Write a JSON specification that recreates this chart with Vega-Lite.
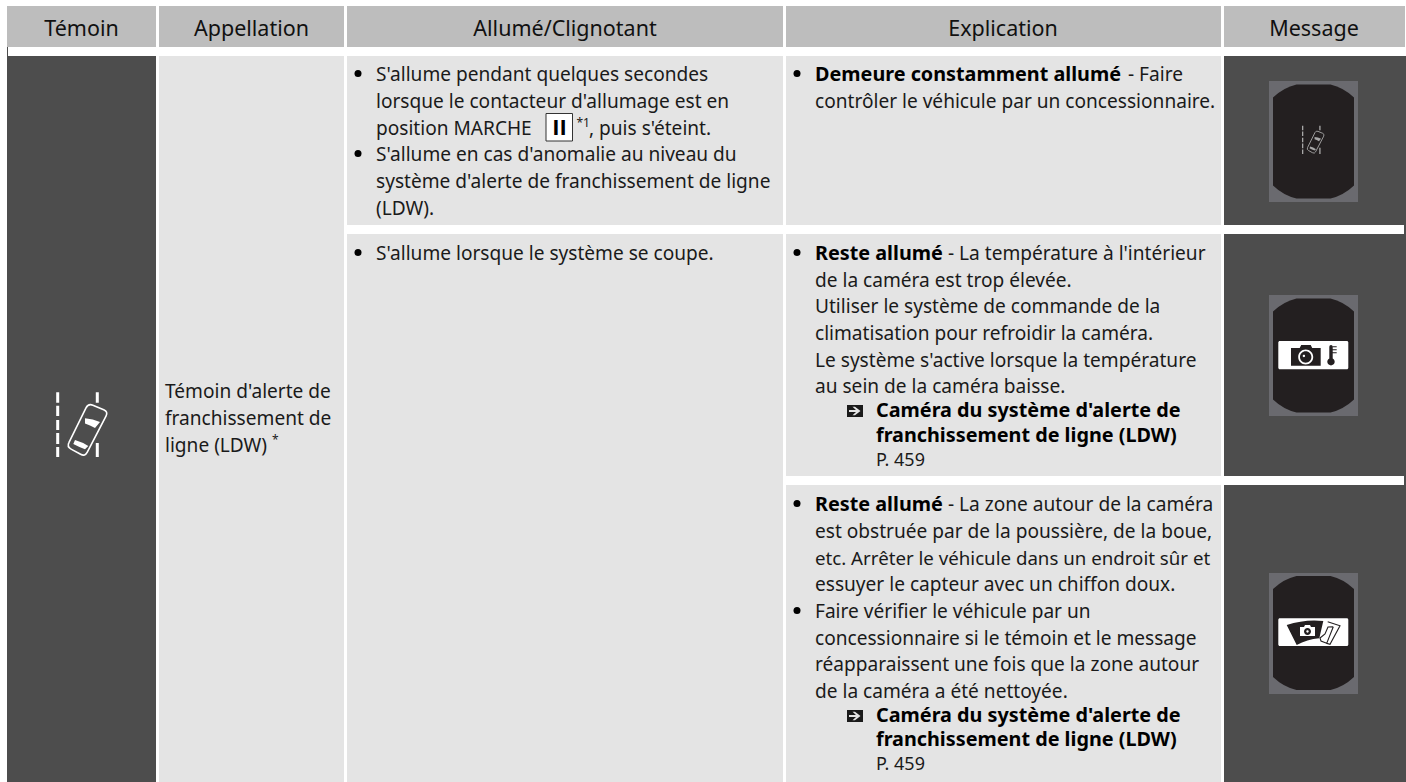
{"$schema":"https://vega.github.io/schema/vega-lite/v6.json","width":1406,"height":782,"padding":0,"autosize":{"type":"fit","contains":"padding"},"background":"#ffffff","config":{"view":{"stroke":null}},
"datasets":{
"cells":[
{"x":7,"x2":156,"y":6,"y2":47,"tone":"head"},{"x":159,"x2":344,"y":6,"y2":47,"tone":"head"},{"x":347,"x2":783,"y":6,"y2":47,"tone":"head"},{"x":786,"x2":1221,"y":6,"y2":47,"tone":"head"},{"x":1224,"x2":1405,"y":6,"y2":47,"tone":"head"},
{"x":7,"x2":156,"y":56,"y2":782,"tone":"dark"},{"x":7,"x2":8,"y":47,"y2":56,"tone":"dark"},{"x":159,"x2":344,"y":56,"y2":782,"tone":"light"},
{"x":347,"x2":783,"y":56,"y2":225,"tone":"light"},{"x":347,"x2":783,"y":234,"y2":782,"tone":"light"},
{"x":786,"x2":1221,"y":56,"y2":225,"tone":"light"},{"x":786,"x2":1221,"y":234,"y2":476,"tone":"light"},{"x":786,"x2":1221,"y":485,"y2":782,"tone":"light"},
{"x":1224,"x2":1406,"y":56,"y2":782,"tone":"dark"},{"x":1224,"x2":1404,"y":225,"y2":234,"tone":"white"},{"x":1224,"x2":1404,"y":476,"y2":485,"tone":"white"},
{"x":1269,"x2":1358,"y":81,"y2":202,"tone":"bezel"},{"x":1269,"x2":1358,"y":295,"y2":416,"tone":"bezel"},{"x":1269,"x2":1358,"y":573,"y2":694,"tone":"bezel"},
{"x":546.5,"x2":572.5,"y":114,"y2":141,"tone":"keybox"}],
"plates":[{"x":1278.3,"x2":1348.3,"y":341,"y2":369.3},{"x":1278.3,"x2":1348.3,"y":618.3,"y2":646}],
"texts":[
{"x":81.5,"y":36,"t":"Témoin","k":"head"},{"x":251.5,"y":36,"t":"Appellation","k":"head"},{"x":565,"y":36,"t":"Allumé/Clignotant","k":"head"},{"x":1003,"y":36,"t":"Explication","k":"head"},{"x":1314,"y":36,"t":"Message","k":"head"},
{"x":165,"y":398,"t":"Témoin d'alerte de","k":"reg"},{"x":165,"y":425,"t":"franchissement de","k":"reg"},{"x":165,"y":452,"t":"ligne (LDW)","k":"reg"},{"x":272,"y":444,"t":"*","k":"sup"},
{"x":376,"y":81,"t":"S'allume pendant quelques secondes","k":"reg"},{"x":376,"y":108,"t":"lorsque le contacteur d'allumage est en","k":"reg"},{"x":376,"y":135,"t":"position MARCHE","k":"reg"},{"x":559.5,"y":135,"t":"II","k":"key"},{"x":576.5,"y":127,"t":"*1","k":"sup"},{"x":589,"y":135,"t":", puis s'éteint.","k":"reg"},{"x":376,"y":161,"t":"S'allume en cas d'anomalie au niveau du","k":"reg"},{"x":376,"y":188,"t":"système d'alerte de franchissement de ligne","k":"reg"},{"x":376,"y":215,"t":"(LDW).","k":"reg"},
{"x":376,"y":260,"t":"S'allume lorsque le système se coupe.","k":"reg"},
{"x":815,"y":81,"t":"Demeure constamment allumé","k":"bold"},{"x":1128,"y":81,"t":"- Faire","k":"reg"},{"x":815,"y":108,"t":"contrôler le véhicule par un concessionnaire.","k":"reg"},
{"x":815,"y":260,"t":"Reste allumé","k":"bold"},{"x":948,"y":260,"t":"- La température à l'intérieur","k":"reg"},{"x":815,"y":287,"t":"de la caméra est trop élevée.","k":"reg"},{"x":815,"y":313,"t":"Utiliser le système de commande de la","k":"reg"},{"x":815,"y":340,"t":"climatisation pour refroidir la caméra.","k":"reg"},{"x":815,"y":367,"t":"Le système s'active lorsque la température","k":"reg"},{"x":815,"y":393,"t":"au sein de la caméra baisse.","k":"reg"},
{"x":876,"y":417,"t":"Caméra du système d'alerte de","k":"bold"},{"x":876,"y":442,"t":"franchissement de ligne (LDW)","k":"bold"},{"x":876,"y":466,"t":"P. 459","k":"small"},
{"x":815,"y":511,"t":"Reste allumé","k":"bold"},{"x":948,"y":511,"t":"- La zone autour de la caméra","k":"reg"},{"x":815,"y":538,"t":"est obstruée par de la poussière, de la boue,","k":"reg"},{"x":815,"y":565,"t":"etc. Arrêter le véhicule dans un endroit sûr et","k":"tight"},{"x":815,"y":591,"t":"essuyer le capteur avec un chiffon doux.","k":"reg"},{"x":815,"y":618,"t":"Faire vérifier le véhicule par un","k":"reg"},{"x":815,"y":645,"t":"concessionnaire si le témoin et le message","k":"reg"},{"x":815,"y":671,"t":"réapparaissent une fois que la zone autour","k":"reg"},{"x":815,"y":698,"t":"de la caméra a été nettoyée.","k":"reg"},
{"x":876,"y":722,"t":"Caméra du système d'alerte de","k":"bold"},{"x":876,"y":746,"t":"franchissement de ligne (LDW)","k":"bold"},{"x":876,"y":770,"t":"P. 459","k":"small"}],
"bullets":[{"x":358,"y":73.5},{"x":358,"y":153.5},{"x":358,"y":252.5},{"x":797,"y":73.5},{"x":797,"y":252.5},{"x":797,"y":503.5},{"x":797,"y":610.5}],
"arrows":[{"x":855,"y":411},{"x":855,"y":716}],
"bigIcon":[{"x":78,"y":425}],"miniIcon":[{"x":1311.5,"y":140}],
"screens":[{"x":1313.5,"y":141.5},{"x":1313.5,"y":355.5},{"x":1313.5,"y":633}],
"camera":[{"x":1305.7,"y":357}],"thermo":[{"x":1331,"y":355}],"wiper":[{"x":1307,"y":632}]
},
"encoding":{"x":{"field":"x","type":"quantitative","axis":null,"scale":{"domain":[0,1406],"nice":false,"zero":false}},"y":{"field":"y","type":"quantitative","axis":null,"scale":{"domain":[782,0],"nice":false,"zero":false}}},
"layer":[
{"data":{"name":"cells"},"mark":{"type":"rect","strokeWidth":0},"encoding":{"x2":{"field":"x2"},"y2":{"field":"y2"},"color":{"field":"tone","type":"nominal","legend":null,"scale":{"domain":["head","dark","light","white","bezel","keybox"],"range":["#bdbdbd","#4d4d4d","#e4e4e4","#ffffff","#6a6a6f","#8a8a8a"]}}}},
{"data":{"name":"cells"},"transform":[{"filter":"datum.tone=='keybox'"}],"mark":{"type":"rect","fill":"#ffffff","stroke":"#333333","strokeWidth":1,"xOffset":-0.5,"yOffset":-0.5},"encoding":{"x2":{"field":"x2"},"y2":{"field":"y2"}}},
{"data":{"name":"screens"},"mark":{"type":"point","filled":true,"size":4,"opacity":1,"fill":"#231f20","strokeWidth":0,"shape":"M-17,-57 L17,-57 Q30,-54 40.5,-44 L40.5,44 Q30,54 17,57 L-17,57 Q-30,54 -40.5,44 L-40.5,-44 Q-30,-54 -17,-57 Z"}},
{"data":{"name":"plates"},"mark":{"type":"rect","fill":"#ffffff","cornerRadius":1.5},"encoding":{"x2":{"field":"x2"},"y2":{"field":"y2"}}},
{"data":{"name":"bigIcon"},"mark":{"type":"point","filled":true,"size":4,"opacity":1,"fill":"#ffffff","strokeWidth":0,"shape":"M-21.8,-32.7 L-18.8,-32.7 L-18.8,-22.3 L-21.8,-22.3 Z M-21.8,-19.3 L-18.8,-19.3 L-18.8,-9 L-21.8,-9 Z M-21.8,-5 L-18.8,-5 L-18.8,5 L-21.8,5 Z M-21.8,8 L-18.8,8 L-18.8,19 L-21.8,19 Z M-21.8,22 L-18.8,22 L-18.8,32 L-21.8,32 Z M17.8,-32.7 L20.8,-32.7 L20.8,-22.3 L17.8,-22.3 Z M17.8,18 L20.8,18 L20.8,32 L17.8,32 Z M7,-6.7 Q15,-6 22,-3 L17,3 Q12,0 7,-1.5 Z M-3,15 Q4,17 10.3,21 L7,24.3 Q1,22 -4.7,19 Z"}},
{"data":{"name":"bigIcon"},"mark":{"type":"point","filled":false,"size":4,"opacity":1,"fill":"transparent","stroke":"#ffffff","strokeWidth":1.6,"shape":"M14.9,-19.8 L25.7,-15.3 Q30.3,-13.3 28,-8.8 L9.3,27.2 Q7,31.7 2.6,29.3 L-6.9,24.1 Q-11.3,21.7 -9,17.3 L8,-17.2 Q10.3,-21.7 14.9,-19.8 Z"}},
{"data":{"name":"miniIcon"},"mark":{"type":"point","filled":true,"size":0.76,"opacity":1,"fill":"#a8a8a8","strokeWidth":0,"shape":"M-21.8,-32.7 L-18.8,-32.7 L-18.8,-22.3 L-21.8,-22.3 Z M-21.8,-19.3 L-18.8,-19.3 L-18.8,-9 L-21.8,-9 Z M-21.8,-5 L-18.8,-5 L-18.8,5 L-21.8,5 Z M-21.8,8 L-18.8,8 L-18.8,19 L-21.8,19 Z M-21.8,22 L-18.8,22 L-18.8,32 L-21.8,32 Z M17.8,-32.7 L20.8,-32.7 L20.8,-22.3 L17.8,-22.3 Z M17.8,18 L20.8,18 L20.8,32 L17.8,32 Z M7,-6.7 Q15,-6 22,-3 L17,3 Q12,0 7,-1.5 Z M-3,15 Q4,17 10.3,21 L7,24.3 Q1,22 -4.7,19 Z"}},
{"data":{"name":"miniIcon"},"mark":{"type":"point","filled":false,"size":0.76,"opacity":1,"fill":"transparent","stroke":"#a8a8a8","strokeWidth":0.9,"shape":"M14.9,-19.8 L25.7,-15.3 Q30.3,-13.3 28,-8.8 L9.3,27.2 Q7,31.7 2.6,29.3 L-6.9,24.1 Q-11.3,21.7 -9,17.3 L8,-17.2 Q10.3,-21.7 14.9,-19.8 Z"}},
{"data":{"name":"camera"},"mark":{"type":"point","filled":true,"size":4,"opacity":1,"fill":"#231f20","strokeWidth":0,"shape":"M-14.7,-9 L-6,-9 L-4.5,-12 L5,-12 L6.5,-9 L15,-9 L15,8.7 L-14.7,8.7 Z M-7.5,0 A7.5,7.5 0 1 0 7.5,0 A7.5,7.5 0 1 0 -7.5,0 Z M-5.7,0 A5.7,5.7 0 1 1 5.7,0 A5.7,5.7 0 1 1 -5.7,0 Z M-3,-1 A1.2,1.2 0 1 0 -0.6,-1 A1.2,1.2 0 1 0 -3,-1 Z"}},
{"data":{"name":"thermo"},"mark":{"type":"point","filled":true,"size":4,"opacity":1,"fill":"#231f20","strokeWidth":0,"shape":"M-1.7,-8.3 Q-1.7,-10 0,-10 Q1.7,-10 1.7,-8.3 L1.7,-8.8 L5.7,-8.8 L5.7,-7.8 L1.7,-7.8 L1.7,-5.8 L5.7,-5.8 L5.7,-4.8 L1.7,-4.8 L1.7,-2.8 L5.7,-2.8 L5.7,-1.8 L1.7,-1.8 L1.7,3.4 A3.7,3.7 0 1 1 -1.7,3.4 Z"}},
{"data":{"name":"wiper"},"mark":{"type":"point","filled":true,"size":4,"opacity":1,"fill":"#231f20","strokeWidth":0,"shape":"M-20.3,-7 Q-2,-13 16.3,-11 L12.3,6.3 Q0,7.5 -10.3,13 Z M-7,-5 L-7,4 L8,4 L8,-5 L4,-5 L3,-7 L-2,-7 L-3,-5 Z M-3,-0.5 A3.5,3.5 0 1 1 4,-0.5 A3.5,3.5 0 1 1 -3,-0.5 Z M-0.7,-0.5 A1.2,1.2 0 1 0 1.7,-0.5 A1.2,1.2 0 1 0 -0.7,-0.5 Z"}},
{"data":{"name":"wiper"},"mark":{"type":"point","filled":false,"size":4,"opacity":1,"fill":"transparent","stroke":"#231f20","strokeWidth":1.1,"shape":"M20.7,-10.3 L33,-6.3 L23,12.3 L19.7,11.3 L26.3,-5.3 M19.7,11.3 L14,9 L13,6 L18,2 L21,-5 L26.3,-5.3"}},
{"data":{"name":"texts"},"transform":[{"filter":"datum.k=='head'"}],"mark":{"type":"text","font":"Noto Sans","fontSize":21.5,"align":"center","baseline":"alphabetic","fill":"#111111"},"encoding":{"text":{"field":"t"}}},
{"data":{"name":"texts"},"transform":[{"filter":"datum.k=='reg'"}],"mark":{"type":"text","font":"Noto Sans","fontSize":19.1,"align":"left","baseline":"alphabetic","fill":"#1a1a1a"},"encoding":{"text":{"field":"t"}}},
{"data":{"name":"texts"},"transform":[{"filter":"datum.k=='tight'"}],"mark":{"type":"text","font":"Noto Sans","fontSize":18.7,"align":"left","baseline":"alphabetic","fill":"#1a1a1a"},"encoding":{"text":{"field":"t"}}},
{"data":{"name":"texts"},"transform":[{"filter":"datum.k=='bold'"}],"mark":{"type":"text","font":"Noto Sans","fontSize":19.8,"fontWeight":"bold","align":"left","baseline":"alphabetic","fill":"#000000"},"encoding":{"text":{"field":"t"}}},
{"data":{"name":"texts"},"transform":[{"filter":"datum.k=='small'"}],"mark":{"type":"text","font":"Noto Sans","fontSize":18,"align":"left","baseline":"alphabetic","fill":"#1a1a1a"},"encoding":{"text":{"field":"t"}}},
{"data":{"name":"texts"},"transform":[{"filter":"datum.k=='sup'"}],"mark":{"type":"text","font":"Noto Sans","fontSize":12,"align":"left","baseline":"alphabetic","fill":"#1a1a1a"},"encoding":{"text":{"field":"t"}}},
{"data":{"name":"texts"},"transform":[{"filter":"datum.k=='key'"}],"mark":{"type":"text","font":"Open Sans","fontSize":22,"fontWeight":"bold","align":"center","baseline":"alphabetic","fill":"#000000"},"encoding":{"text":{"field":"t"}}},
{"data":{"name":"bullets"},"mark":{"type":"point","shape":"circle","filled":true,"size":49,"opacity":1,"fill":"#000000","strokeWidth":0}},
{"data":{"name":"arrows"},"mark":{"type":"point","filled":true,"size":4,"opacity":1,"fill":"#1a1a1a","strokeWidth":0,"shape":"M-8,-6 L8,-6 L8,6 L-8,6 Z M-6,-0.9 L-6,0.9 L1,0.9 L-2.5,4.2 L0,4.2 L5.5,0 L0,-4.2 L-2.5,-4.2 L1,-0.9 Z"}}
]}
